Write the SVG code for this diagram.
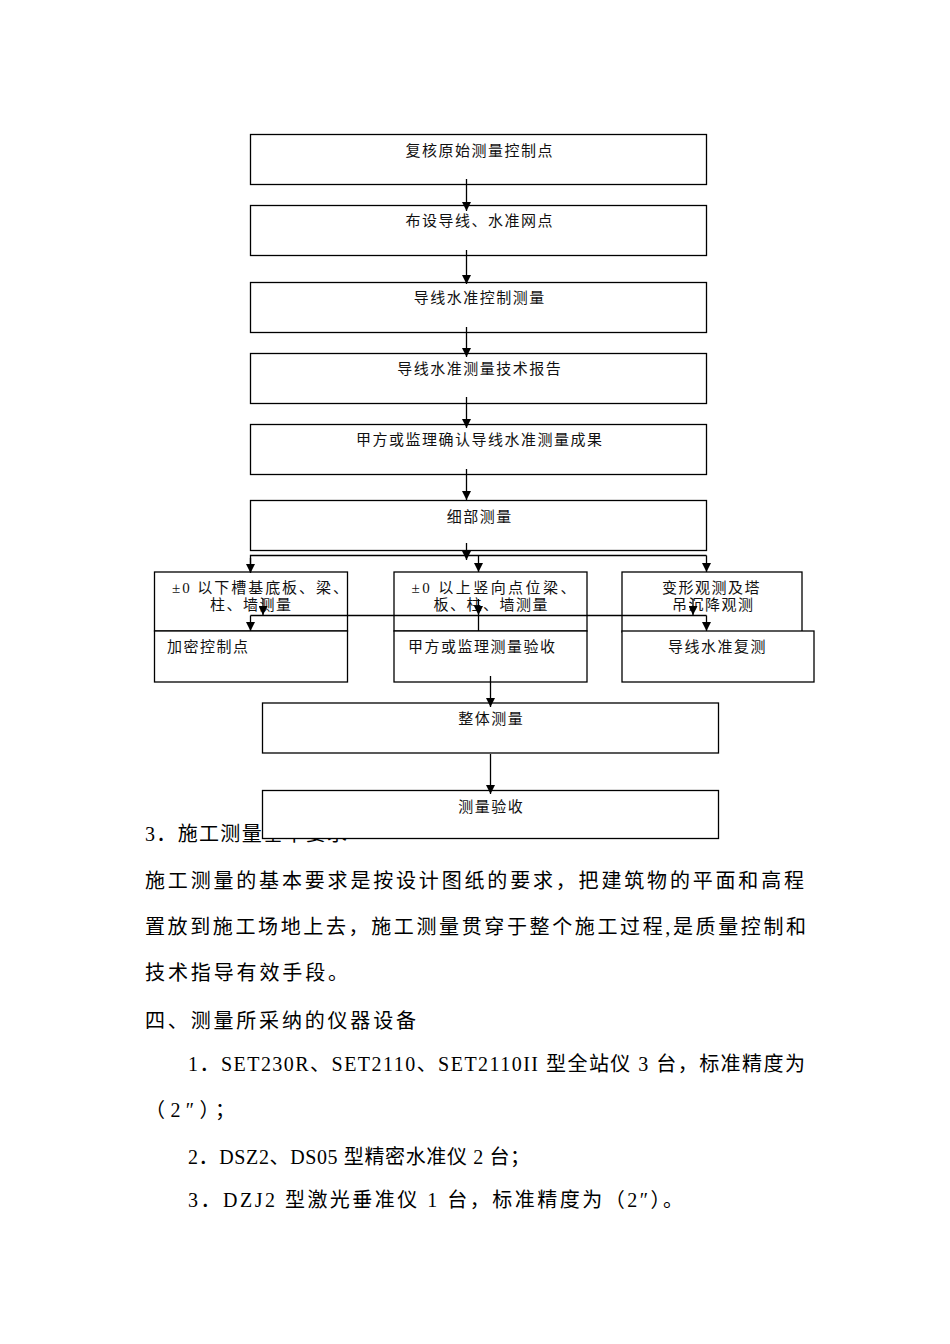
<svg xmlns="http://www.w3.org/2000/svg" width="950" height="1344" viewBox="0 0 950 1344">
<style>
.box{fill:#fff;stroke:#000;stroke-width:1.3}
.lbl{font-family:"Liberation Serif","Noto Sans CJK SC",serif;font-size:15px;fill:#111}
.c{text-anchor:middle}
.body{font-family:"Liberation Serif","Noto Sans CJK SC",serif;font-size:20px;fill:#000}
.ln{fill:none;stroke:#000;stroke-width:1.3}
.ar{fill:none;stroke:#000;stroke-width:1.3;marker-end:url(#ah)}
</style>
<defs>
<marker id="ah" viewBox="0 0 10 10" refX="10" refY="5" markerWidth="9" markerHeight="9" markerUnits="userSpaceOnUse" orient="auto">
<path d="M0,0 L10,5 L0,10 z" fill="#000"/>
</marker>
</defs>
<rect width="950" height="1344" fill="#fff"/>
<g id="body-text">
<text class="body" x="145" y="841" textLength="202" lengthAdjust="spacing">3．施工测量基本要求</text>
<text class="body" x="145" y="888" textLength="659" lengthAdjust="spacing">施工测量的基本要求是按设计图纸的要求，把建筑物的平面和高程</text>
<text class="body" x="145" y="934" textLength="661" lengthAdjust="spacing">置放到施工场地上去，施工测量贯穿于整个施工过程,是质量控制和</text>
<text class="body" x="145" y="980" textLength="203" lengthAdjust="spacing">技术指导有效手段。</text>
<text class="body" x="145" y="1028" textLength="271" lengthAdjust="spacing">四、测量所采纳的仪器设备</text>
<text class="body" x="188" y="1071" textLength="617" lengthAdjust="spacing">1．SET230R、SET2110、SET2110II 型全站仪 3 台，标准精度为</text>
<text class="body" x="145" y="1117" textLength="90" lengthAdjust="spacing">（2″）；</text>
<text class="body" x="188" y="1164" textLength="342" lengthAdjust="spacing">2．DSZ2、DS05 型精密水准仪 2 台；</text>
<text class="body" x="188" y="1207" textLength="495" lengthAdjust="spacing">3．DZJ2 型激光垂准仪 1 台，标准精度为（2″）。</text>
</g>
<g id="n1"><rect class="box" x="250.5" y="134.5" width="456" height="50"/><text class="lbl c" x="479" y="156" textLength="147" lengthAdjust="spacing">复核原始测量控制点</text></g>
<g id="n2"><rect class="box" x="250.5" y="205.5" width="456" height="50"/><text class="lbl c" x="479" y="226" textLength="147" lengthAdjust="spacing">布设导线、水准网点</text></g>
<g id="n3"><rect class="box" x="250.5" y="282.5" width="456" height="50"/><text class="lbl c" x="479" y="303" textLength="130.5" lengthAdjust="spacing">导线水准控制测量</text></g>
<g id="n4"><rect class="box" x="250.5" y="353.5" width="456" height="50"/><text class="lbl c" x="479" y="374" textLength="163.5" lengthAdjust="spacing">导线水准测量技术报告</text></g>
<g id="n5"><rect class="box" x="250.5" y="424.5" width="456" height="50"/><text class="lbl c" x="479" y="445" textLength="246" lengthAdjust="spacing">甲方或监理确认导线水准测量成果</text></g>
<g id="n6"><rect class="box" x="250.5" y="500.5" width="456" height="50"/><text class="lbl c" x="479" y="522" textLength="64.5" lengthAdjust="spacing">细部测量</text></g>
<g id="n7a"><rect class="box" x="154.5" y="572" width="193" height="59"/><text class="lbl" x="172" y="592.5" textLength="176" lengthAdjust="spacing">±0 以下槽基底板、梁、</text><text class="lbl" x="210" y="609.5" textLength="81" lengthAdjust="spacing">柱、墙测量</text></g>
<g id="n8a"><rect class="box" x="394" y="572" width="193" height="59"/><text class="lbl" x="411.5" y="592.5" textLength="164" lengthAdjust="spacing">±0 以上竖向点位梁、</text><text class="lbl" x="433.5" y="609.5" textLength="114" lengthAdjust="spacing">板、柱、墙测量</text></g>
<g id="n9a"><rect class="box" x="622" y="572" width="180" height="60"/><text class="lbl" x="662" y="592.5" textLength="97.5" lengthAdjust="spacing">变形观测及塔</text><text class="lbl" x="672" y="609.5" textLength="81" lengthAdjust="spacing">吊沉降观测</text></g>
<g id="n7b"><rect class="box" x="154.5" y="631" width="193" height="51"/><text class="lbl" x="167" y="651.5" textLength="81" lengthAdjust="spacing">加密控制点</text></g>
<g id="n8b"><rect class="box" x="394" y="631" width="193" height="51"/><text class="lbl" x="408" y="651.5" textLength="147" lengthAdjust="spacing">甲方或监理测量验收</text></g>
<g id="n9b"><rect class="box" x="622" y="631" width="192" height="51"/><text class="lbl" x="668" y="651.5" textLength="97.5" lengthAdjust="spacing">导线水准复测</text></g>
<g id="n10"><rect class="box" x="262.5" y="703" width="456" height="50"/><text class="lbl c" x="490.5" y="724" textLength="64.5" lengthAdjust="spacing">整体测量</text></g>
<g id="n11"><rect class="box" x="262.5" y="790.5" width="456" height="48"/><text class="lbl c" x="490.5" y="811.5" textLength="64.5" lengthAdjust="spacing">测量验收</text></g>
<g id="connectors">
<line class="ar" x1="466.5" y1="179" x2="466.5" y2="211"/>
<line class="ar" x1="466.5" y1="250" x2="466.5" y2="284"/>
<line class="ar" x1="466.5" y1="327" x2="466.5" y2="357"/>
<line class="ar" x1="466.5" y1="397" x2="466.5" y2="428"/>
<line class="ar" x1="466.5" y1="469" x2="466.5" y2="500"/>
<line class="ar" x1="466.5" y1="543" x2="466.5" y2="560"/>
<polyline class="ln" points="250.5,572 250.5,555.5 706.5,555.5"/>
<line class="ar" x1="250.5" y1="558" x2="250.5" y2="573"/>
<line class="ar" x1="478.5" y1="555.5" x2="478.5" y2="572"/>
<line class="ar" x1="706.5" y1="555.5" x2="706.5" y2="572"/>
<line class="ar" x1="263" y1="599" x2="263" y2="615"/>
<line class="ar" x1="478.5" y1="599" x2="478.5" y2="615"/>
<line class="ar" x1="693" y1="599" x2="693" y2="615"/>
<line class="ln" x1="250.5" y1="615.5" x2="706.5" y2="615.5"/>
<line class="ar" x1="250.5" y1="615.5" x2="250.5" y2="631"/>
<line class="ar" x1="706.5" y1="615.5" x2="706.5" y2="631"/>
<line class="ln" x1="478.5" y1="615.5" x2="478.5" y2="631"/>
<line class="ar" x1="490.5" y1="676" x2="490.5" y2="707"/>
<line class="ar" x1="490.5" y1="754" x2="490.5" y2="794"/>
</g>
</svg>
